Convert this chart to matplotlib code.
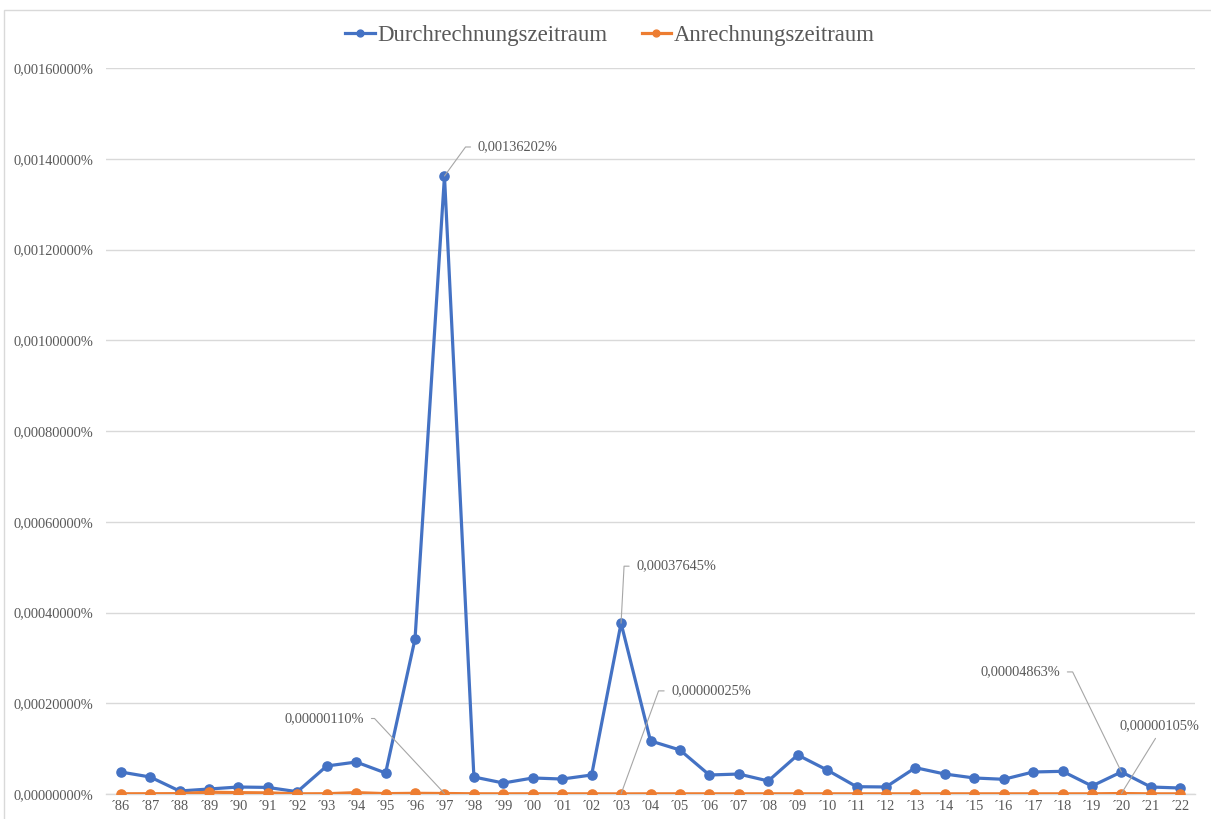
import matplotlib
matplotlib.use("Agg")
import matplotlib.pyplot as plt
from matplotlib.patches import Rectangle
from matplotlib.ticker import FuncFormatter, MultipleLocator

plt.rcParams['font.family'] = ['Liberation Serif', 'DejaVu Serif']

years = ['86', '87', '88', '89', '90', '91', '92', '93', '94', '95', '96', '97',
         '98', '99', '00', '01', '02', '03', '04', '05', '06', '07', '08', '09',
         '10', '11', '12', '13', '14', '15', '16', '17', '18', '19', '20', '21', '22']
tick_labels = ['\u00b4' + y for y in years]

# values in percent
durchrechnung = [0.0000485, 0.0000375, 0.0000066, 0.0000110, 0.0000154, 0.0000145,
                 0.0000050, 0.0000617, 0.0000705, 0.0000463, 0.0003420, 0.00136202,
                 0.0000375, 0.0000242, 0.0000353, 0.0000330, 0.0000419, 0.00037645,
                 0.0001170, 0.0000970, 0.0000419, 0.0000440, 0.0000287, 0.0000860,
                 0.0000529, 0.0000161, 0.0000155, 0.0000580, 0.0000440, 0.0000353,
                 0.0000324, 0.0000485, 0.0000500, 0.0000176, 0.00004863, 0.0000154,
                 0.0000132]
anrechnung = [0.0000005, 0.0000006, 0.0000008, 0.0000040, 0.0000030, 0.0000025,
              0.0000004, 0.0000006, 0.0000030, 0.0000008, 0.0000015, 0.0000011,
              0.0000005, 0.0000004, 0.0000005, 0.0000004, 0.0000004, 0.00000025,
              0.0000004, 0.0000004, 0.0000004, 0.0000004, 0.0000004, 0.0000004,
              0.0000004, 0.0000004, 0.0000004, 0.0000004, 0.0000004, 0.0000004,
              0.0000004, 0.0000004, 0.0000004, 0.0000004, 0.00000105, 0.0000004,
              0.0000004]

blue = '#4472C4'
orange = '#ED7D31'
text_gray = '#595959'
grid_gray = '#D9D9D9'
fs = 10.4

W, H = 1211, 819
fig = plt.figure(figsize=(W / 100, H / 100), dpi=100)
ax = fig.add_axes([106 / W, 1 - 794 / H, (1195 - 106) / W, (794 - 68) / H])

x = list(range(len(years)))
ax.plot(x, durchrechnung, color=blue, lw=2.3, marker='o', ms=6.6,
        label='Durchrechnungszeitraum', zorder=3, solid_joinstyle='round')
ax.plot(x, anrechnung, color=orange, lw=2.3, marker='o', ms=6.6,
        label='Anrechnungszeitraum', zorder=4, solid_joinstyle='round')

ax.set_xlim(-0.5, len(years) - 0.5)
ax.set_ylim(0, 0.0016)
ax.yaxis.set_major_locator(MultipleLocator(0.0002))
ax.yaxis.set_major_formatter(FuncFormatter(lambda v, p: f"{v:.8f}%".replace('.', ',')))
ax.set_xticks(x)
ax.set_xticklabels(tick_labels)
ax.tick_params(axis='y', length=0, pad=9, labelsize=fs, labelcolor=text_gray)
ax.tick_params(axis='x', length=0, pad=4.5, labelsize=fs, labelcolor=text_gray)
ax.grid(axis='y', color=grid_gray, lw=1)
ax.set_axisbelow(True)
for s in ['top', 'right', 'left']:
    ax.spines[s].set_visible(False)
ax.spines['bottom'].set_color(grid_gray)
ax.spines['bottom'].set_linewidth(1)


def label(i, val, text, dx, dy, ha, angle=None, straight=False):
    if straight:
        conn = 'arc3'
        relpos = (0.5, 0.0)
    else:
        conn = f'angle,angleA=0,angleB={angle},rad=0'
        relpos = (0.0, 0.5) if ha == 'left' else (1.0, 0.5)
    ax.annotate(text, xy=(i, val), xytext=(dx, dy), textcoords='offset pixels',
                ha=ha, va='center', fontsize=fs, color=text_gray,
                arrowprops=dict(arrowstyle='-', color='#A6A6A6', lw=0.8,
                                connectionstyle=conn, relpos=relpos,
                                shrinkA=3, shrinkB=0),
                zorder=5)


i97 = years.index('97')
i03 = years.index('03')
i20 = years.index('20')
label(i97, durchrechnung[i97], '0,00136202%', 33, 29, 'left', angle=54)
label(i97, anrechnung[i97], '0,00000110%', -80, 75, 'right', angle=133)
label(i03, durchrechnung[i03], '0,00037645%', 15, 57, 'left', angle=87)
label(i03, anrechnung[i03], '0,00000025%', 50, 103, 'left', angle=70)
label(i20, durchrechnung[i20], '0,00004863%', -61, 100, 'right', angle=116)
label(i20, anrechnung[i20], '0,00000105%', 38, 68, 'center', straight=True)

fig.legend(loc='center', bbox_to_anchor=(610 / W, 1 - 35 / H), ncol=2,
           frameon=False, fontsize=16.4, handlelength=1.3, handletextpad=0.1,
           columnspacing=1.5, labelcolor=text_gray, markerscale=0.75)

fig.patches.append(Rectangle((4 / W, -0.1), 1.2, 1 - 10 / H + 0.1,
                             transform=fig.transFigure, fill=False,
                             edgecolor=grid_gray, lw=1))

fig.savefig('out.png', dpi=100)
